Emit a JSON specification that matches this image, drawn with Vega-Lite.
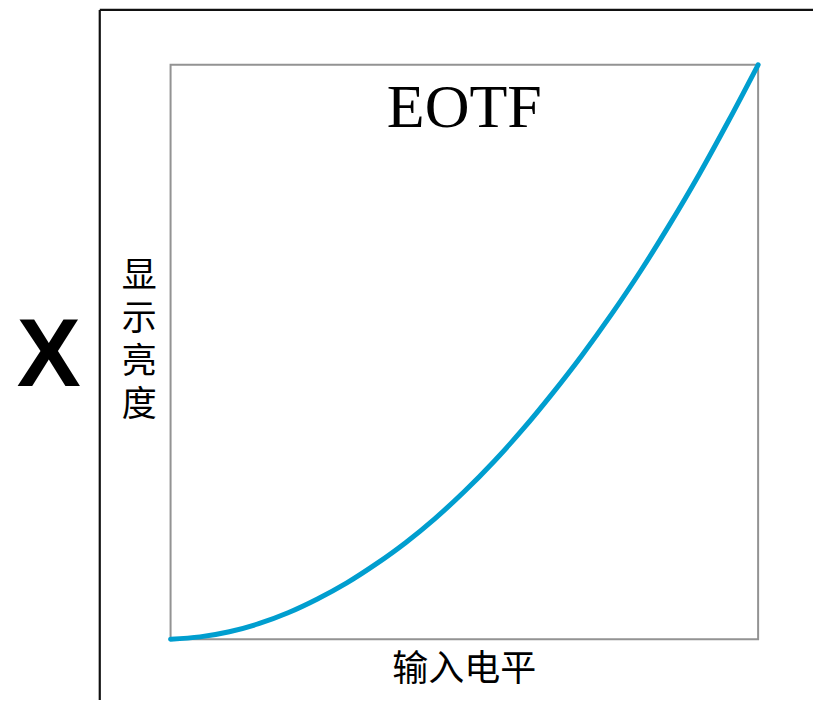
{
  "$schema": "https://vega.github.io/schema/vega-lite/v6.json",
  "width": 815,
  "height": 702,
  "padding": 0,
  "autosize": {"type": "fit", "contains": "padding"},
  "background": "white",
  "config": {"view": {"stroke": null}},
  "datasets": {
    "curve": [
      {"input": 0.0, "output": 0.0},
      {"input": 0.05, "output": 0.004},
      {"input": 0.1, "output": 0.013},
      {"input": 0.15, "output": 0.027},
      {"input": 0.2, "output": 0.046},
      {"input": 0.25, "output": 0.07},
      {"input": 0.3, "output": 0.098},
      {"input": 0.35, "output": 0.131},
      {"input": 0.4, "output": 0.168},
      {"input": 0.45, "output": 0.21},
      {"input": 0.5, "output": 0.257},
      {"input": 0.55, "output": 0.309},
      {"input": 0.6, "output": 0.366},
      {"input": 0.65, "output": 0.428},
      {"input": 0.7, "output": 0.494},
      {"input": 0.75, "output": 0.565},
      {"input": 0.8, "output": 0.641},
      {"input": 0.85, "output": 0.723},
      {"input": 0.9, "output": 0.81},
      {"input": 0.95, "output": 0.903},
      {"input": 1.0, "output": 1.0}
    ],
    "box": [{"x0": 0, "x1": 1, "y0": 0, "y1": 1}],
    "frame": [
      {"x0": -0.1205, "x1": -0.1205, "y0": -0.1059, "y1": 1.0955},
      {"x0": -0.1205, "x1": 1.0934, "y0": 1.0955, "y1": 1.0955}
    ]
  },
  "layer": [
    {
      "data": {"name": "frame"},
      "mark": {"type": "rule", "color": "#111111", "strokeWidth": 2.2},
      "encoding": {
        "x": {"field": "x0", "type": "quantitative", "scale": {"domain": [-0.2903, 1.0934], "nice": false, "zero": false}, "axis": null},
        "x2": {"field": "x1"},
        "y": {"field": "y0", "type": "quantitative", "scale": {"domain": [-0.1059, 1.1128], "nice": false, "zero": false}, "axis": null},
        "y2": {"field": "y1"}
      }
    },
    {
      "data": {"name": "box"},
      "mark": {"type": "rect", "fill": null, "fillOpacity": 0, "stroke": "#939393", "strokeWidth": 2},
      "encoding": {
        "x": {"field": "x0", "type": "quantitative"},
        "x2": {"field": "x1"},
        "y": {"field": "y0", "type": "quantitative"},
        "y2": {"field": "y1"}
      }
    },
    {
      "data": {"name": "curve"},
      "mark": {"type": "line", "color": "#009ecf", "strokeWidth": 5, "strokeCap": "round", "interpolate": "monotone"},
      "encoding": {
        "x": {"field": "input", "type": "quantitative"},
        "y": {"field": "output", "type": "quantitative"}
      }
    },
    {
      "data": {"values": [{"t": "EOTF"}]},
      "mark": {"type": "text", "font": "Liberation Serif", "fontSize": 62, "color": "black", "align": "center", "baseline": "alphabetic"},
      "encoding": {
        "x": {"datum": 0.5, "type": "quantitative"},
        "y": {"datum": 0.892, "type": "quantitative"},
        "text": {"field": "t"}
      }
    },
    {
      "data": {"values": [{"t": "输入电平"}]},
      "mark": {"type": "text", "font": "Noto Sans CJK SC", "fontSize": 36, "color": "black", "align": "center", "baseline": "middle"},
      "encoding": {
        "x": {"datum": 0.5, "type": "quantitative"},
        "y": {"datum": -0.0538, "type": "quantitative"},
        "text": {"field": "t"}
      }
    },
    {
      "data": {"values": [{"t": ["显", "示", "亮", "度"]}]},
      "mark": {"type": "text", "font": "Noto Sans CJK SC", "fontSize": 35, "lineHeight": 43, "color": "black", "align": "center", "baseline": "middle"},
      "encoding": {
        "x": {"datum": -0.0535, "type": "quantitative"},
        "y": {"datum": 0.632, "type": "quantitative"},
        "text": {"field": "t"}
      }
    },
    {
      "data": {"values": [{"t": "X"}]},
      "mark": {"type": "text", "font": "Liberation Sans", "fontWeight": "bold", "fontSize": 96, "color": "black", "align": "center", "baseline": "alphabetic"},
      "encoding": {
        "x": {"datum": -0.2071, "type": "quantitative"},
        "y": {"datum": 0.441, "type": "quantitative"},
        "text": {"field": "t"}
      }
    }
  ]
}
